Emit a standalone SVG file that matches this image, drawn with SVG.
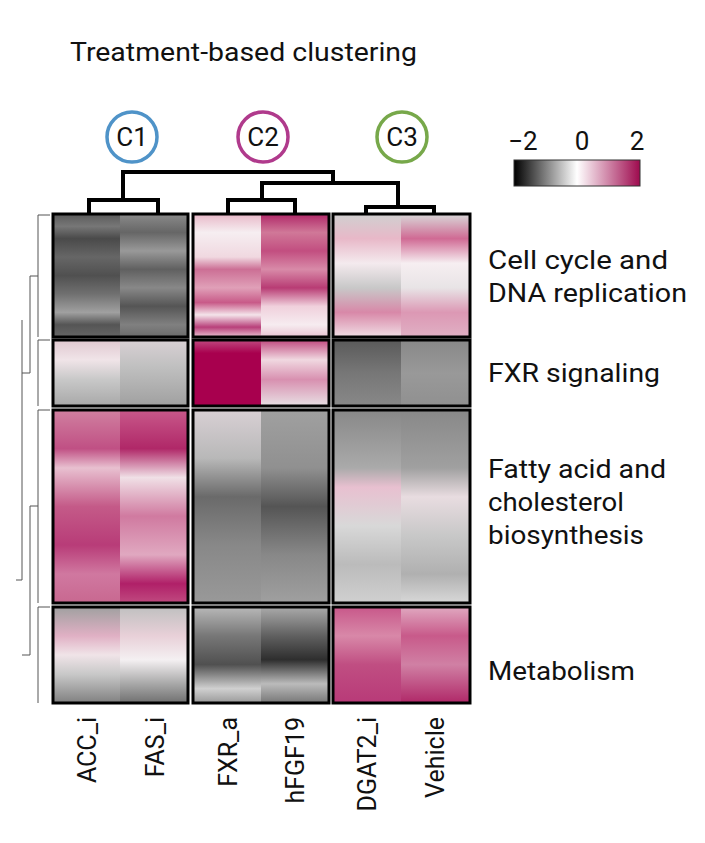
<svg xmlns="http://www.w3.org/2000/svg" width="705" height="843" viewBox="0 0 705 843">
<style>
text{font-family:"Roboto","Liberation Sans",sans-serif;fill:#111}
.lab{font-size:26px}
.col{font-size:25px}
.circ{fill:none;stroke-width:3.5}
.dend{fill:none;stroke:#000;stroke-width:4}
.ldend{fill:none;stroke:#555;stroke-width:1}
.blk{fill:none;stroke:#000;stroke-width:3}
</style>
<defs>
<linearGradient id="leg" x1="0" x2="1"><stop offset="0" stop-color="#000"/><stop offset="0.5" stop-color="#fff"/><stop offset="1" stop-color="#9e0a4e"/></linearGradient>
<linearGradient id="a1" x1="0" y1="0" x2="0" y2="1"><stop offset="0" stop-color="#5a5a5a"/><stop offset=".1" stop-color="#777"/><stop offset=".2" stop-color="#4a4a4a"/><stop offset=".35" stop-color="#666"/><stop offset=".5" stop-color="#505050"/><stop offset=".65" stop-color="#707070"/><stop offset=".8" stop-color="#a0a0a0"/><stop offset=".9" stop-color="#555"/><stop offset="1" stop-color="#666"/></linearGradient>
<linearGradient id="b1" x1="0" y1="0" x2="0" y2="1"><stop offset="0" stop-color="#8a8a8a"/><stop offset=".15" stop-color="#666"/><stop offset=".3" stop-color="#999"/><stop offset=".45" stop-color="#606060"/><stop offset=".6" stop-color="#888"/><stop offset=".75" stop-color="#555"/><stop offset=".9" stop-color="#808080"/><stop offset="1" stop-color="#6a6a6a"/></linearGradient>
<linearGradient id="c1" x1="0" y1="0" x2="0" y2="1"><stop offset="0" stop-color="#e8b8c8"/><stop offset=".15" stop-color="#f6eef1"/><stop offset=".35" stop-color="#f0d8e0"/><stop offset=".45" stop-color="#cc6f95"/><stop offset=".6" stop-color="#e0a0b8"/><stop offset=".72" stop-color="#c85a88"/><stop offset=".82" stop-color="#f4e4ea"/><stop offset=".92" stop-color="#b8407a"/><stop offset="1" stop-color="#e8c0d0"/></linearGradient>
<linearGradient id="d1" x1="0" y1="0" x2="0" y2="1"><stop offset="0" stop-color="#b02868"/><stop offset=".15" stop-color="#d07898"/><stop offset=".3" stop-color="#c24e80"/><stop offset=".45" stop-color="#d88aa8"/><stop offset=".6" stop-color="#b83c74"/><stop offset=".75" stop-color="#f0d0dc"/><stop offset=".9" stop-color="#f6ecf0"/><stop offset="1" stop-color="#e8c4d2"/></linearGradient>
<linearGradient id="e1" x1="0" y1="0" x2="0" y2="1"><stop offset="0" stop-color="#d0d0d0"/><stop offset=".2" stop-color="#e8b8c8"/><stop offset=".4" stop-color="#f4eaee"/><stop offset=".6" stop-color="#c8c8c8"/><stop offset=".8" stop-color="#d888a8"/><stop offset="1" stop-color="#f0dde4"/></linearGradient>
<linearGradient id="f1" x1="0" y1="0" x2="0" y2="1"><stop offset="0" stop-color="#d8d8d8"/><stop offset=".2" stop-color="#d06a94"/><stop offset=".4" stop-color="#f6eef1"/><stop offset=".6" stop-color="#e8e4e6"/><stop offset=".8" stop-color="#dc98b4"/><stop offset="1" stop-color="#e0b0c4"/></linearGradient>
<linearGradient id="a2" x1="0" y1="0" x2="0" y2="1"><stop offset="0" stop-color="#e0c8d0"/><stop offset=".3" stop-color="#f0e4e8"/><stop offset=".6" stop-color="#c8c8c8"/><stop offset="1" stop-color="#a8a8a8"/></linearGradient>
<linearGradient id="b2" x1="0" y1="0" x2="0" y2="1"><stop offset="0" stop-color="#d8d0d4"/><stop offset=".4" stop-color="#c0c0c0"/><stop offset="1" stop-color="#a0a0a0"/></linearGradient>
<linearGradient id="c2" x1="0" y1="0" x2="0" y2="1"><stop offset="0" stop-color="#c04a80"/><stop offset=".2" stop-color="#a8004e"/><stop offset="1" stop-color="#a8004e"/></linearGradient>
<linearGradient id="d2" x1="0" y1="0" x2="0" y2="1"><stop offset="0" stop-color="#c04a80"/><stop offset=".3" stop-color="#f0d8e0"/><stop offset=".6" stop-color="#d890b0"/><stop offset="1" stop-color="#e8e0e4"/></linearGradient>
<linearGradient id="e2" x1="0" y1="0" x2="0" y2="1"><stop offset="0" stop-color="#5a5a5a"/><stop offset=".5" stop-color="#777"/><stop offset="1" stop-color="#888"/></linearGradient>
<linearGradient id="f2" x1="0" y1="0" x2="0" y2="1"><stop offset="0" stop-color="#888"/><stop offset=".5" stop-color="#999"/><stop offset="1" stop-color="#909090"/></linearGradient>
<linearGradient id="a3" x1="0" y1="0" x2="0" y2="1"><stop offset="0" stop-color="#d080a0"/><stop offset=".2" stop-color="#c05084"/><stop offset=".3" stop-color="#e8c0d0"/><stop offset=".5" stop-color="#c45a88"/><stop offset=".7" stop-color="#b83c78"/><stop offset=".85" stop-color="#d078a0"/><stop offset="1" stop-color="#c86890"/></linearGradient>
<linearGradient id="b3" x1="0" y1="0" x2="0" y2="1"><stop offset="0" stop-color="#c8588a"/><stop offset=".2" stop-color="#b02868"/><stop offset=".35" stop-color="#f0e0e6"/><stop offset=".55" stop-color="#d07aa0"/><stop offset=".75" stop-color="#e0a8c0"/><stop offset=".9" stop-color="#b02068"/><stop offset="1" stop-color="#c04a80"/></linearGradient>
<linearGradient id="c3" x1="0" y1="0" x2="0" y2="1"><stop offset="0" stop-color="#d8d0d4"/><stop offset=".25" stop-color="#b8b8b8"/><stop offset=".45" stop-color="#6a6a6a"/><stop offset=".7" stop-color="#888"/><stop offset="1" stop-color="#999"/></linearGradient>
<linearGradient id="d3" x1="0" y1="0" x2="0" y2="1"><stop offset="0" stop-color="#a0a0a0"/><stop offset=".3" stop-color="#909090"/><stop offset=".5" stop-color="#555"/><stop offset=".75" stop-color="#888"/><stop offset="1" stop-color="#a0a0a0"/></linearGradient>
<linearGradient id="e3" x1="0" y1="0" x2="0" y2="1"><stop offset="0" stop-color="#888"/><stop offset=".3" stop-color="#aaa"/><stop offset=".4" stop-color="#e8c0d0"/><stop offset=".6" stop-color="#d8d8d8"/><stop offset=".8" stop-color="#bbb"/><stop offset="1" stop-color="#d0d0d0"/></linearGradient>
<linearGradient id="f3" x1="0" y1="0" x2="0" y2="1"><stop offset="0" stop-color="#888"/><stop offset=".3" stop-color="#a0a0a0"/><stop offset=".45" stop-color="#e8dce0"/><stop offset=".65" stop-color="#c8c8c8"/><stop offset=".85" stop-color="#b0b0b0"/><stop offset="1" stop-color="#d8d8d8"/></linearGradient>
<linearGradient id="a4" x1="0" y1="0" x2="0" y2="1"><stop offset="0" stop-color="#a0a0a0"/><stop offset=".3" stop-color="#e0b0c4"/><stop offset=".5" stop-color="#f0e4e8"/><stop offset=".7" stop-color="#c8c8c8"/><stop offset="1" stop-color="#808080"/></linearGradient>
<linearGradient id="b4" x1="0" y1="0" x2="0" y2="1"><stop offset="0" stop-color="#c0c0c0"/><stop offset=".3" stop-color="#e8d0d8"/><stop offset=".55" stop-color="#f4f0f2"/><stop offset=".8" stop-color="#a8a8a8"/><stop offset="1" stop-color="#707070"/></linearGradient>
<linearGradient id="c4" x1="0" y1="0" x2="0" y2="1"><stop offset="0" stop-color="#b8b8b8"/><stop offset=".3" stop-color="#777"/><stop offset=".6" stop-color="#505050"/><stop offset=".85" stop-color="#d0d0d0"/><stop offset="1" stop-color="#999"/></linearGradient>
<linearGradient id="d4" x1="0" y1="0" x2="0" y2="1"><stop offset="0" stop-color="#aaa"/><stop offset=".3" stop-color="#606060"/><stop offset=".55" stop-color="#2e2e2e"/><stop offset=".8" stop-color="#bbb"/><stop offset="1" stop-color="#777"/></linearGradient>
<linearGradient id="e4" x1="0" y1="0" x2="0" y2="1"><stop offset="0" stop-color="#c8588a"/><stop offset=".3" stop-color="#d888a8"/><stop offset=".6" stop-color="#c04e82"/><stop offset="1" stop-color="#b83a78"/></linearGradient>
<linearGradient id="f4" x1="0" y1="0" x2="0" y2="1"><stop offset="0" stop-color="#e0a8c0"/><stop offset=".3" stop-color="#c85a8a"/><stop offset=".6" stop-color="#d080a4"/><stop offset="1" stop-color="#b02868"/></linearGradient>
</defs>
<text x="70" y="61" style="font-size:25px" textLength="347" lengthAdjust="spacingAndGlyphs">Treatment-based clustering</text>
<g id="C1"><circle class="circ" cx="132" cy="137" r="25" stroke="#4f93c8"/><text x="132" y="146" class="lab" text-anchor="middle">C1</text></g>
<g id="C2"><circle class="circ" cx="263" cy="137" r="25" stroke="#b03a8c"/><text x="263" y="146" class="lab" text-anchor="middle">C2</text></g>
<g id="C3"><circle class="circ" cx="402" cy="137" r="25" stroke="#77a84a"/><text x="402" y="146" class="lab" text-anchor="middle">C3</text></g>
<g id="legend"><rect x="514" y="160" width="126" height="26" fill="url(#leg)" stroke="#333"/>
<text x="523" y="150" class="lab" text-anchor="middle">−2</text><text x="582" y="150" class="lab" text-anchor="middle">0</text><text x="637" y="150" class="lab" text-anchor="middle">2</text></g>
<g id="connectors">
<path class="dend" d="M89 217V200H158V217M123 200V172H333V183M262 200V183H398V207M228 217V200H295V217M366 217V207H434V217"/>
<path class="ldend" d="M50 215H38M50 340H38M50 410H38M50 607H38M38 215V337M38 340V406M38 410V603M38 607V703M38 276H30V373H22M38 506H30V655H22M22 320V580H16"/>
</g>
<g id="heatmap">
<rect x="53" y="214" width="67" height="123" fill="url(#a1)"/><rect x="120" y="214" width="68" height="123" fill="url(#b1)"/>
<rect x="193" y="214" width="68" height="123" fill="url(#c1)"/><rect x="261" y="214" width="68" height="123" fill="url(#d1)"/>
<rect x="333" y="214" width="68" height="123" fill="url(#e1)"/><rect x="401" y="214" width="69" height="123" fill="url(#f1)"/>
<rect x="53" y="340" width="67" height="66" fill="url(#a2)"/><rect x="120" y="340" width="68" height="66" fill="url(#b2)"/>
<rect x="193" y="340" width="68" height="66" fill="url(#c2)"/><rect x="261" y="340" width="68" height="66" fill="url(#d2)"/>
<rect x="333" y="340" width="68" height="66" fill="url(#e2)"/><rect x="401" y="340" width="69" height="66" fill="url(#f2)"/>
<rect x="53" y="410" width="67" height="193" fill="url(#a3)"/><rect x="120" y="410" width="68" height="193" fill="url(#b3)"/>
<rect x="193" y="410" width="68" height="193" fill="url(#c3)"/><rect x="261" y="410" width="68" height="193" fill="url(#d3)"/>
<rect x="333" y="410" width="68" height="193" fill="url(#e3)"/><rect x="401" y="410" width="69" height="193" fill="url(#f3)"/>
<rect x="53" y="607" width="67" height="96" fill="url(#a4)"/><rect x="120" y="607" width="68" height="96" fill="url(#b4)"/>
<rect x="193" y="607" width="68" height="96" fill="url(#c4)"/><rect x="261" y="607" width="68" height="96" fill="url(#d4)"/>
<rect x="333" y="607" width="68" height="96" fill="url(#e4)"/><rect x="401" y="607" width="69" height="96" fill="url(#f4)"/>
<g class="blk"><rect x="53" y="214" width="135" height="123" class="blk"/><rect x="193" y="214" width="136" height="123" class="blk"/><rect x="333" y="214" width="137" height="123" class="blk"/>
<rect x="53" y="340" width="135" height="66" class="blk"/><rect x="193" y="340" width="136" height="66" class="blk"/><rect x="333" y="340" width="137" height="66" class="blk"/>
<rect x="53" y="410" width="135" height="193" class="blk"/><rect x="193" y="410" width="136" height="193" class="blk"/><rect x="333" y="410" width="137" height="193" class="blk"/>
<rect x="53" y="607" width="135" height="96" class="blk"/><rect x="193" y="607" width="136" height="96" class="blk"/><rect x="333" y="607" width="137" height="96" class="blk"/></g>
</g>
<g id="rowlabels" class="lab">
<text x="488" y="269" textLength="180" lengthAdjust="spacingAndGlyphs">Cell cycle and</text><text x="488" y="302" textLength="199" lengthAdjust="spacingAndGlyphs">DNA replication</text>
<text x="488" y="382" textLength="172" lengthAdjust="spacingAndGlyphs">FXR signaling</text>
<text x="488" y="478" textLength="178" lengthAdjust="spacingAndGlyphs">Fatty acid and</text><text x="488" y="511" textLength="136" lengthAdjust="spacingAndGlyphs">cholesterol</text><text x="488" y="544" textLength="156" lengthAdjust="spacingAndGlyphs">biosynthesis</text>
<text x="488" y="680" textLength="147" lengthAdjust="spacingAndGlyphs">Metabolism</text>
</g>
<g id="collabels" class="col">
<text transform="translate(96,717) rotate(-90)" text-anchor="end">ACC_i</text>
<text transform="translate(164,717) rotate(-90)" text-anchor="end">FAS_i</text>
<text transform="translate(237,717) rotate(-90)" text-anchor="end">FXR_a</text>
<text transform="translate(304,717) rotate(-90)" text-anchor="end">hFGF19</text>
<text transform="translate(376,717) rotate(-90)" text-anchor="end">DGAT2_i</text>
<text transform="translate(444,717) rotate(-90)" text-anchor="end">Vehicle</text>
</g>
</svg>
